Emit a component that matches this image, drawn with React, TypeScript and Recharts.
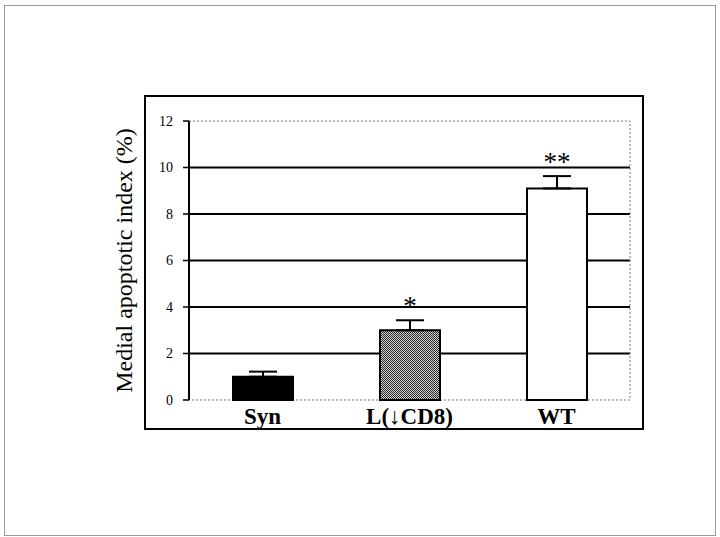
import React from 'react';
import {
  BarChart, Bar, XAxis, YAxis, CartesianGrid, ErrorBar, Cell, LabelList, ReferenceArea,
} from 'recharts';

const groups = ['Syn', 'L(↓CD8)', 'WT'];
const apoptoticIndex = [1.0, 3.0, 9.1];
const semUpper = [0.22, 0.43, 0.53];
const significance = ['', '*', '**'];
const yTicks = [0, 2, 4, 6, 8, 10, 12];
const gridValues = [2, 4, 6, 8, 10];

const barData = groups.map((g, i) => ({
  group: g,
  value: apoptoticIndex[i],
  err: [0, semUpper[i]],
  sig: significance[i],
}));

const fills = ['#000000', 'url(#checker)', '#ffffff'];
const serif = '"Liberation Serif", "Times New Roman", serif';

const StarLabel = (props: any) => {
  const { x, y, width, height, index } = props;
  const d = barData[index];
  if (!d || !d.sig) return null;
  const pxPerUnit = height / d.value;
  const errTop = y - d.err[1] * pxPerUnit;
  return (
    <text x={x + width / 2} y={errTop - 5} textAnchor="middle" fontFamily={serif} fontSize={27} fill="#000">
      {d.sig}
    </text>
  );
};

export default function App() {
  return (
    <div style={{ position: 'absolute', left: 0, top: 0, width: 720, height: 537, background: '#fff' }}>
      {/* page frame */}
      <div style={{ position: 'absolute', left: 4, top: 5, width: 710, height: 529, border: '1px solid #9a9a9a' }} />
      {/* chart box */}
      <div style={{ position: 'absolute', left: 144, top: 95, width: 496, height: 331, border: '2px solid #000' }} />
      <div style={{ position: 'absolute', left: 0, top: 0 }}>
        <BarChart
          width={720}
          height={537}
          data={barData}
          margin={{ top: 121, right: 90, bottom: 107, left: 58 }}
          barSize={60}
        >
          <defs>
            <pattern id="checker" width="2" height="2" patternUnits="userSpaceOnUse">
              <rect width="2" height="2" fill="#d0d0d0" />
              <rect x="0" y="0" width="1" height="1" fill="#2a2a2a" />
              <rect x="1" y="1" width="1" height="1" fill="#2a2a2a" />
            </pattern>
          </defs>
          <CartesianGrid vertical={false} horizontalValues={gridValues} stroke="#000" strokeWidth={2} />
          <ReferenceArea y1={0} y2={12} fill="none" stroke="#777" strokeDasharray="2 2" strokeWidth={1} ifOverflow="visible" />
          <XAxis
            dataKey="group"
            axisLine={false}
            tickLine={false}
            tickSize={0}
            tickMargin={8}
            height={30}
            tick={{ fontFamily: serif, fontSize: 23, fontWeight: 'bold', fill: '#000' }}
          />
          <YAxis
            domain={[0, 12]}
            ticks={yTicks}
            width={131}
            tickSize={6}
            tickMargin={10}
            axisLine={{ stroke: '#000', strokeWidth: 2 }}
            tickLine={{ stroke: '#000', strokeWidth: 1.5 }}
            tick={{ fontFamily: serif, fontSize: 14, fill: '#000' }}
            label={{
              value: 'Medial apoptotic index (%)',
              angle: -90,
              position: 'center',
              style: { fontFamily: serif, fontSize: 24, fill: '#000' },
            }}
          />
          <Bar dataKey="value" stroke="#000" strokeWidth={2} isAnimationActive={false}>
            {barData.map((d, i) => (
              <Cell key={d.group} fill={fills[i]} />
            ))}
            <ErrorBar dataKey="err" width={14} stroke="#000" strokeWidth={2} direction="y" />
            <LabelList dataKey="sig" content={StarLabel} />
          </Bar>
        </BarChart>
      </div>
    </div>
  );
}
